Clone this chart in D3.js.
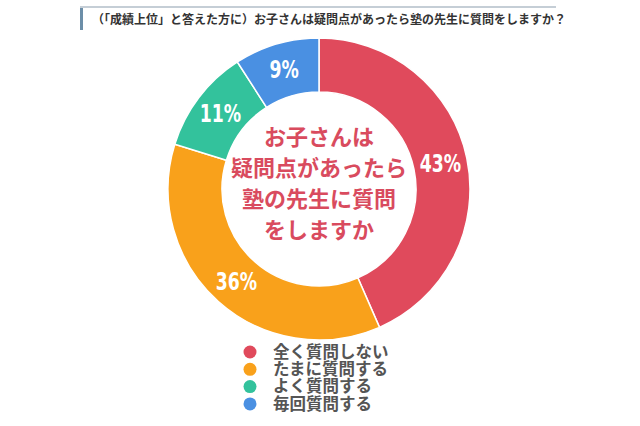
<!DOCTYPE html><html><head><meta charset="utf-8"><script src="https://cdn.jsdelivr.net/npm/d3@7"></script>
<style>body{margin:0;background:#fff}</style></head><body><svg id="c" width="640" height="426"></svg>
<script>
const categories=["全く質問しない","たまに質問する","よく質問する","毎回質問する"];
const values=[43,36,11,9];
const colors=["#e04a5c","#f9a11b","#33c29c","#4a90e2"];
const title="（「成績上位」と答えた方に）お子さんは疑問点があったら塾の先生に質問をしますか？";
const centerLines=["お子さんは","疑問点があったら","塾の先生に質問","をしますか"];
const svg=d3.select("#c");
const F="'Noto Sans CJK JP','Noto Sans',sans-serif";
svg.append("line").attr("x1",80).attr("x2",556).attr("y1",7).attr("y2",7).attr("stroke","#c5ced6").attr("stroke-width",2);
svg.append("rect").attr("x",80).attr("y",8).attr("width",3).attr("height",22).attr("fill","#6c8ea8");
svg.append("text").attr("x",92).attr("y",24).text(title).attr("font-family",F).attr("font-size",12).attr("font-weight","bold").attr("fill","#333");
const cx=319,cy=189,R=151,r=97;
const g=svg.append("g").attr("transform",`translate(${cx},${cy})`);
const pie=d3.pie().sort(null)(values);
const arc=d3.arc().innerRadius(r).outerRadius(R);
g.selectAll("path").data(pie).join("path").attr("d",arc).attr("fill",(d,i)=>colors[i]).attr("stroke","#fff").attr("stroke-width",1.5);
const la=d3.arc().innerRadius((r+R)/2).outerRadius((r+R)/2);
g.selectAll("text.p").data(pie).join("text").attr("class","p")
 .attr("text-anchor","middle").attr("dy","0.35em").text(d=>d.data+"%").attr("font-family","'DejaVu Sans Condensed','Roboto',sans-serif")
 .attr("font-size",24).attr("font-weight","bold").attr("fill","#fff").attr("transform",d=>`translate(${la.centroid(d)}) scale(0.8,1)`);
centerLines.forEach((t,i)=>g.append("text").attr("y",-52+i*31).attr("dy","0.35em").attr("text-anchor","middle").text(t)
 .attr("font-family",F).attr("font-size",22).attr("font-weight","bold").attr("fill","#d94b5e"));
const lg=svg.append("g");
categories.forEach((c,i)=>{const y=352+i*17.3;
 lg.append("circle").attr("cx",250).attr("cy",y).attr("r",6.5).attr("fill",colors[i]);
 lg.append("text").attr("x",273).attr("y",y).attr("dy","0.35em").text(c).attr("font-family",F).attr("font-size",16.5).attr("font-weight","bold").attr("fill","#555");});
</script></body></html>
